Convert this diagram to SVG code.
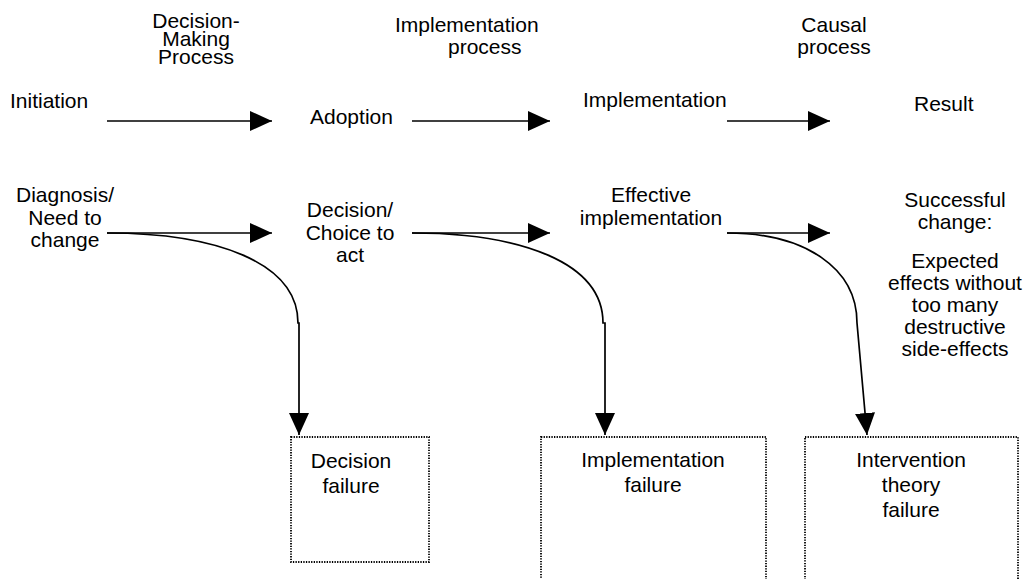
<svg xmlns="http://www.w3.org/2000/svg" width="1029" height="579" viewBox="0 0 1029 579">
<style>
text{font-family:"Liberation Sans",Arial,sans-serif;font-size:21px;fill:#000}
.m{text-anchor:middle}
.c{fill:none;stroke:#000;stroke-width:1.7}
.box{fill:none;stroke:#000;stroke-width:1.8;stroke-dasharray:1.3 1.3}
</style>
<defs>
<marker id="ah" markerUnits="userSpaceOnUse" markerWidth="22" markerHeight="20" refX="22" refY="10" orient="auto">
<path d="M0,0 L22,10 L0,20 Z" fill="#000"/>
</marker>
</defs>
<g id="headers">
<text class="m" x="196" y="28">Decision-</text>
<text class="m" x="196" y="46">Making</text>
<text class="m" x="196" y="64">Process</text>
<text x="395" y="32">Implementation</text>
<text x="448" y="54">process</text>
<text class="m" x="834" y="32">Causal</text>
<text class="m" x="834" y="54">process</text>
</g>
<g id="initiation"><text x="10" y="108">Initiation</text></g>
<g id="adoption"><text x="310" y="124">Adoption</text></g>
<g id="implementation"><text x="583" y="107">Implementation</text></g>
<g id="result"><text x="914" y="111">Result</text></g>
<g id="diagnosis">
<text class="m" x="65" y="202">Diagnosis/</text>
<text class="m" x="65" y="225">Need to</text>
<text class="m" x="65" y="247">change</text>
</g>
<g id="decision">
<text class="m" x="350" y="217">Decision/</text>
<text class="m" x="350" y="240">Choice to</text>
<text class="m" x="350" y="262">act</text>
</g>
<g id="effective">
<text class="m" x="651" y="202">Effective</text>
<text class="m" x="651" y="225">implementation</text>
</g>
<g id="successful">
<text class="m" x="955" y="207">Successful</text>
<text class="m" x="955" y="229">change:</text>
<text class="m" x="955" y="268">Expected</text>
<text class="m" x="955" y="290">effects without</text>
<text class="m" x="955" y="312">too many</text>
<text class="m" x="955" y="334">destructive</text>
<text class="m" x="955" y="356">side-effects</text>
</g>
<g id="decision-failure">
<rect class="box" x="291" y="437" width="138" height="125"/>
<text class="m" x="351" y="468">Decision</text>
<text class="m" x="351" y="493">failure</text>
</g>
<g id="implementation-failure">
<rect class="box" x="541" y="437" width="225" height="160"/>
<text class="m" x="653" y="467">Implementation</text>
<text class="m" x="653" y="492">failure</text>
</g>
<g id="theory-failure">
<rect class="box" x="805" y="437" width="213" height="160"/>
<text class="m" x="911" y="467">Intervention</text>
<text class="m" x="911" y="492">theory</text>
<text class="m" x="911" y="517">failure</text>
</g>
<g id="connectors">
<line class="c" x1="107" y1="121" x2="272" y2="121" marker-end="url(#ah)"/>
<line class="c" x1="412" y1="121" x2="550" y2="121" marker-end="url(#ah)"/>
<line class="c" x1="727" y1="121" x2="830" y2="121" marker-end="url(#ah)"/>
<line class="c" x1="107" y1="233" x2="272" y2="233" marker-end="url(#ah)"/>
<line class="c" x1="412" y1="233" x2="550" y2="233" marker-end="url(#ah)"/>
<line class="c" x1="727" y1="233" x2="830" y2="233" marker-end="url(#ah)"/>
<path class="c" d="M107,233 C215,233 298,262 298,323 L299,323 L299,435" marker-end="url(#ah)"/>
<path class="c" d="M412,233 C520,233 603,262 603,323 L605,323 L605,435" marker-end="url(#ah)"/>
<path class="c" d="M727,233 C805,233 857,268 857,323 L867,435" marker-end="url(#ah)"/>
</g>
</svg>
